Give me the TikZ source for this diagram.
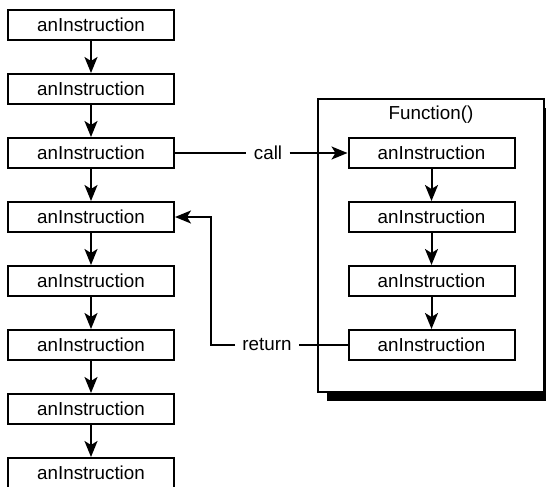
\documentclass[tikz,border=0pt]{standalone}
\usepackage{fontspec}
\setmainfont{Liberation Sans}
\usetikzlibrary{arrows.meta, positioning, shadows}

\begin{document}
\begin{tikzpicture}[
    node distance=32pt,
    instr/.style={rectangle, draw=black, fill=white, line width=1pt, minimum width=83pt, minimum height=15pt, inner sep=0pt, font=\fontsize{9.4}{11}\selectfont, align=center},
    funcbox/.style={rectangle, draw=black, fill=white, line width=1pt, minimum width=113pt, minimum height=146.5pt, drop shadow={shadow xshift=4.5pt, shadow yshift=-4.5pt, fill=black, opacity=1}},
    tag/.style={font=\fontsize{9.4}{11}\selectfont, inner sep=3.5pt},
    arrow/.style={-{Stealth[length=8pt, width=6.5pt, inset=2pt]}, line width=1pt},
    link/.style={line width=1pt}
]
\useasboundingbox (0,0) rectangle (273pt,-243.5pt);

% Function frame
\node[funcbox] (func) at (215.5pt,-122.75pt) {};
\node[tag] (title) at (215.5pt,-57.5pt) {Function()};

% Main program
\node[instr] (main1) at (45.5pt,-12.5pt) {anInstruction};
\node[instr, below of=main1] (main2) {anInstruction};
\node[instr, below of=main2] (main3) {anInstruction};
\node[instr, below of=main3] (main4) {anInstruction};
\node[instr, below of=main4] (main5) {anInstruction};
\node[instr, below of=main5] (main6) {anInstruction};
\node[instr, below of=main6] (main7) {anInstruction};
\node[instr, below of=main7] (main8) {anInstruction};

% Function body
\node[instr] (fun1) at (215.75pt,-76.5pt) {anInstruction};
\node[instr, below of=fun1] (fun2) {anInstruction};
\node[instr, below of=fun2] (fun3) {anInstruction};
\node[instr, below of=fun3] (fun4) {anInstruction};

% Labels
\node[tag] (call) at (134pt,-76.5pt) {call};
\node[tag] (ret) at (133.5pt,-172.5pt) {return};
\coordinate (bend) at (105.5pt,-172.5pt);

% Arrows
\draw[arrow] (main1) -- (main2);
\draw[arrow] (main2) -- (main3);
\draw[arrow] (main3) -- (main4);
\draw[arrow] (main4) -- (main5);
\draw[arrow] (main5) -- (main6);
\draw[arrow] (main6) -- (main7);
\draw[arrow] (main7) -- (main8);
\draw[arrow] (fun1) -- (fun2);
\draw[arrow] (fun2) -- (fun3);
\draw[arrow] (fun3) -- (fun4);

\draw[link] (main3) -- (call);
\draw[arrow] (call) -- (fun1);
\draw[link] (fun4) -- (ret);
\draw[arrow] (ret.west) -- (bend) |- (main4);

\end{tikzpicture}
\end{document}
